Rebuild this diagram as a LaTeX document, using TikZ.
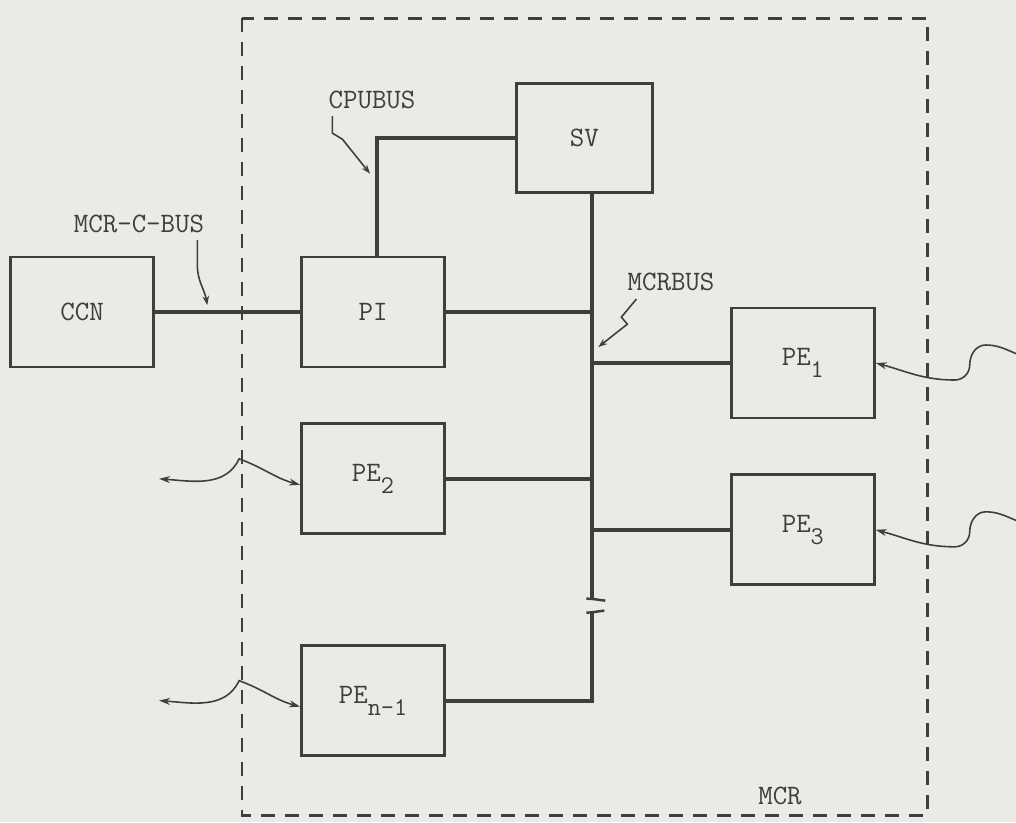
\documentclass[tikz,border=0pt]{standalone}
\usepackage{fontspec}
\usepackage{tikz}
\usepackage{xcolor}
\usetikzlibrary{arrows.meta, positioning, calc}
\definecolor{paper}{RGB}{234,234,231}
\definecolor{ink}{RGB}{62,62,62}
\tikzstyle{unit} = [rectangle, 
minimum width=2.86cm, 
minimum height=2.2cm, 
text centered, 
line width=1.6pt, 
fill=paper, 
draw=ink]
\tikzstyle{bus} = [line width=2.4pt, draw=ink]
\tikzstyle{mcrframe} = [line width=1.7pt, draw=ink, dash pattern=on 0.27cm off 0.21cm]
\tikzstyle{pointer} = [line width=0.9pt, draw=ink, -{Stealth[length=1.8mm, width=1.3mm]}]
\tikzstyle{signal} = [line width=0.9pt, draw=ink, -{Stealth[length=2.2mm, width=1.4mm]}]
\tikzstyle{duplex} = [line width=0.9pt, draw=ink, {Stealth[length=2.2mm, width=1.4mm]}-{Stealth[length=2.2mm, width=1.4mm]}]
\newcommand{\typer}{\fontsize{16}{18}\ttfamily\addfontfeatures{FakeBold=3}}
\newcommand{\lowidx}[1]{\raisebox{-7pt}{\fontsize{14.5}{15}\selectfont #1}}

\begin{document}
\begin{tikzpicture}[every node/.style={font=\typer, text=ink}]

        \fill[paper] (0,0) rectangle (20.32,-16.44);
        \useasboundingbox (0,0) rectangle (20.32,-16.44);

        % Frame
        \draw [mcrframe] (4.84,-0.36) rectangle (18.54,-16.30);
        \node (mcr) at (15.60,-15.92) {MCR};

        % Nodes
        \node (pi) [unit] at (7.46,-6.24) {PI};
        \node (ccn) [unit, left=2.9cm of pi] {CCN};
        \node (sv) [unit, minimum width=2.72cm, minimum height=2.18cm, above right=1.24cm and 1.38cm of pi] {SV};
        \node (pe1) [unit, right=5.68cm of pi, yshift=-1.02cm] {PE\lowidx{1}};
        \node (pe3) [unit, below=1.08cm of pe1] {PE\lowidx{3}};
        \node (pe2) [unit, below=1.08cm of pi] {PE\lowidx{2}};
        \node (pen) [unit, below=2.18cm of pe2] {PE\lowidx{n-1}};

        % Bus
        \coordinate (bustop) at ($(sv.south)+(0.16,0)$);
        \coordinate (busend) at (pen.east -| bustop);
        \coordinate (gaptop) at ($(busend)+(0,2.04)$);
        \coordinate (gapbot) at ($(busend)+(0,1.76)$);
        \draw [bus] (bustop) -- (gaptop);
        \draw [bus] (gapbot) -- (busend) -- (pen.east);
        \draw [bus, line width=1.4pt] ($(gaptop)+(-0.12,0)$) to[out=0,in=175] ($(gaptop)+(0.26,-0.04)$);
        \draw [bus, line width=1.4pt] ($(gapbot)+(-0.12,0)$) to[out=0,in=185] ($(gapbot)+(0.24,0.04)$);

        % Connections
        \draw [bus] (ccn) -- (pi);
        \draw [bus] ($(pi.north)+(0.08,0)$) |- (sv.west);
        \draw [bus] (pi.east) -- (pi.east -| bustop);
        \draw [bus] (pe1.west -| bustop) -- (pe1.west);
        \draw [bus] (pe2.east) -- (pe2.east -| bustop);
        \draw [bus] (pe3.west -| bustop) -- (pe3.west);

        % Labels
        \node (mcrcbus) at (2.78,-4.48) {MCR-C-BUS};
        \node (cpubus) at (7.44,-2.00) {CPUBUS};
        \node (mcrbus) at (13.42,-5.64) {MCRBUS};
        \coordinate (cbustip) at ($(ccn.east)!0.36!(pi.west)+(0,0.14)$);
        \coordinate (cpubustip) at ($(pi.north)+(-0.06,1.64)$);
        \coordinate (mcrbustip) at ($(pe1.west -| bustop)+(0.12,0.32)$);
        \draw [pointer] ($(mcrcbus.south east)+(-0.26,-0.02)$) -- ++(0,-0.5) to[out=-90,in=100] (cbustip);
        \draw [pointer] ($(cpubus.south west)+(0.2,-0.02)$) -- ++(0,-0.34) -- ++(0.2,-0.12) -- (cpubustip);
        \draw [pointer] ($(mcrbus.south west)+(0.3,-0.04)$) -- ++(-0.3,-0.36) -- ++(0.12,-0.14) -- (mcrbustip);

        % Signals
        \foreach \n in {pe1,pe3} {
            \coordinate (\n-far) at ($(\n.east)+(3.10,0.10)$);
            \draw [signal] (\n-far) to[out=170,in=0] ($(\n.east)+(2.20,0.36)$) to[out=180,in=90] ($(\n.east)+(1.88,-0.04)$) to[out=-90,in=0] ($(\n.east)+(1.58,-0.34)$) to[out=180,in=-15] (\n.east);
        }
        \foreach \n in {pe2,pen} {
            \coordinate (\n-far) at ($(\n.west)+(-2.82,0)$);
            \draw [duplex] (\n-far) to[out=-4,in=-115] ($(\n.west)+(-1.22,0.40)$) to[out=-20,in=165] ($(\n.west)+(0,-0.12)$);
        }

    \end{tikzpicture}
\end{document}
